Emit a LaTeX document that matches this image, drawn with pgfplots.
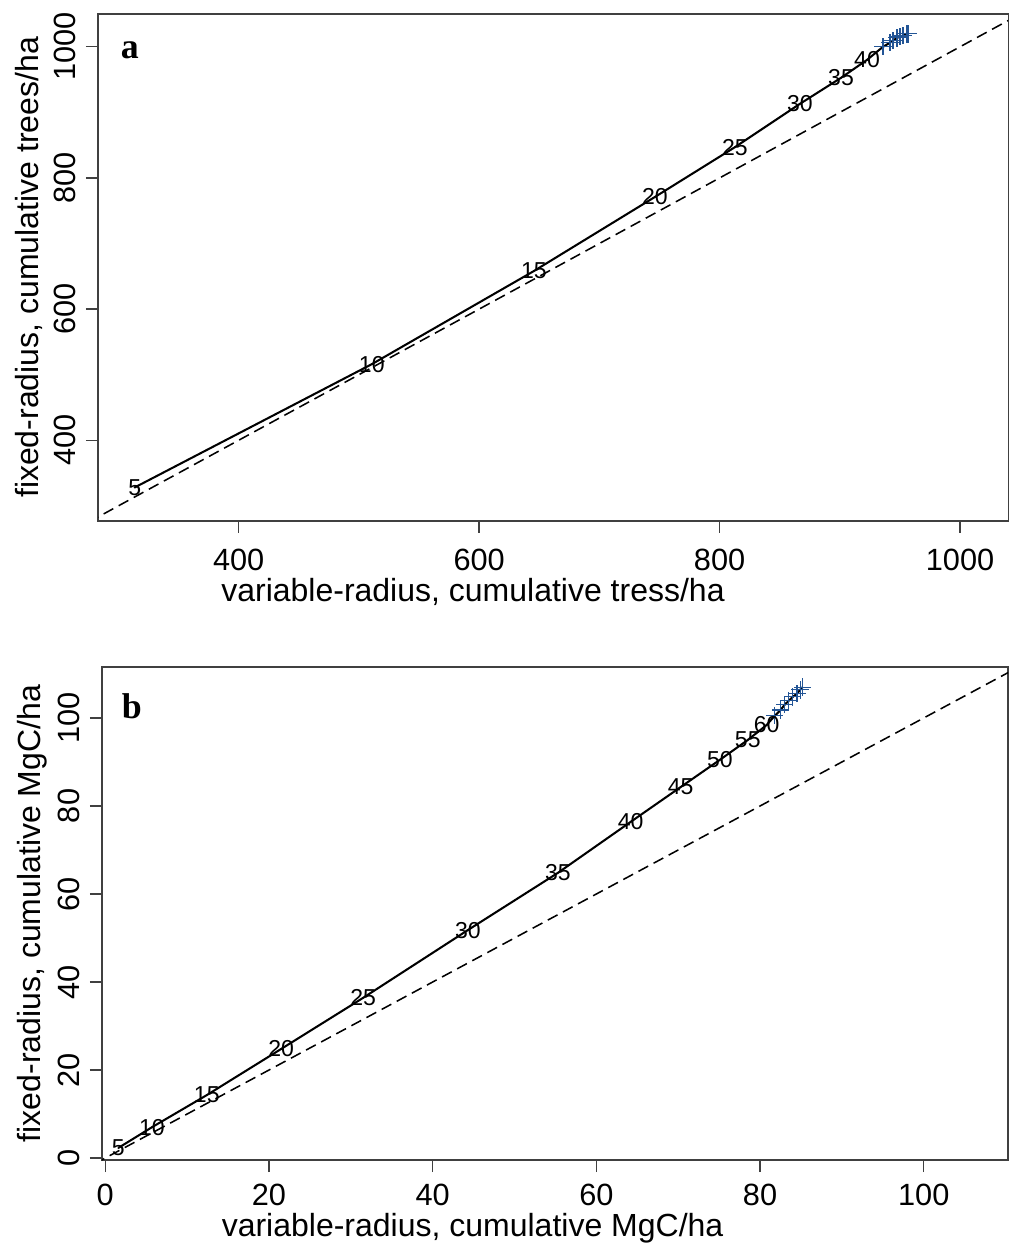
\documentclass[border=0pt]{standalone}
\usepackage{fontspec}
\setmainfont{Liberation Sans}
\newfontfamily\timesfont{Liberation Serif}
\usepackage{pgfplots}
\pgfplotsset{compat=1.18}
\definecolor{mkblue}{RGB}{35,85,150}
\pgfplotsset{
  myaxis/.style={
    scale only axis, anchor=north west,
    axis line style={line width=0.5pt, draw=black!75},
    tick align=outside, major tick length=4.7pt,
    xtick pos=bottom, ytick pos=left,
    tick style={black!75, line width=0.5pt},
    /pgf/number format/assume math mode=true,
    /pgf/number format/1000 sep={},
    scaled ticks=false,
    ticklabel style={font=\fontsize{12}{14}\selectfont, inner sep=0pt},
    xticklabel style={anchor=north},
    yticklabel style={rotate=90, anchor=south},
    xticklabel shift=5.9pt, yticklabel shift=3.9pt,
    every axis x label/.style={anchor=center, inner sep=0pt, font=\fontsize{12.5}{14}\selectfont},
    every axis y label/.style={anchor=center, rotate=90, inner sep=0pt, font=\fontsize{12.5}{14}\selectfont},
    clip=true,
  },
  lbls/.style={only marks, mark=*, mark size=0.1pt, mark options={draw=none, fill=none},
    nodes near coords, point meta=explicit symbolic,
    every node near coord/.style={anchor=center, inner sep=0pt, font=\fontsize{9}{10}\selectfont}},
}
\begin{document}
\begin{tikzpicture}
\useasboundingbox (0,0) rectangle (394.5pt,-486.3pt);
% ---------- panel a ----------
\begin{axis}[myaxis, at={(38.28pt,-5.47pt)}, width=355.5pt, height=198.0pt,
  xmin=283, xmax=1040, ymin=277, ymax=1050,
  xtick={400,600,800,1000}, ytick={400,600,800,1000},
  xlabel={variable-radius, cumulative tress/ha},
  ylabel={fixed-radius, cumulative trees/ha},
  xlabel style={at={(axis description cs:0.412,-0.140)}},
  ylabel style={at={(axis description cs:-0.0758,0.5)}}]
\addplot[black, line width=0.6pt, dash pattern=on 4.3pt off 2.4pt] coordinates {(200,200) (1100,1100)};
\addplot[black, line width=0.8pt] coordinates {
(313.5,328) (510.7,516) (645.5,658) (746.2,771) (812.8,847) (866.8,913) (901,952.7) (922.6,980)
(935.9,1000.0) (941.7,1006.1) (944.2,1009.2) (947.6,1013.7) (950.1,1015.3) (952.6,1016.8) (955.3,1019.8) (956.7,1019.8)};
\addplot[only marks, mark=+, mark size=3.4pt, mkblue, line width=0.5pt] coordinates {
(935.9,1000.0) (941.7,1006.1) (944.2,1009.2) (947.6,1013.7) (950.1,1015.3) (952.6,1016.8) (955.3,1019.8) (956.7,1019.8)};
\addplot[lbls] coordinates {
(313.5,328) [5] (510.7,516) [10] (645.5,658) [15] (746.2,771) [20] (812.8,847) [25] (866.8,913) [30] (901,952.7) [35] (922.6,980) [40]};
\node[font=\timesfont\bfseries\fontsize{14}{16}\selectfont] at (axis description cs:0.035,0.929) {a};
\end{axis}
% ---------- panel b ----------
\begin{axis}[myaxis, at={(39.84pt,-260.5pt)}, width=353.9pt, height=192.6pt,
  xmin=-0.4, xmax=110.3, ymin=-0.45, ymax=111.6,
  xtick={0,20,40,60,80,100}, ytick={0,20,40,60,80,100},
  xticklabel shift=4.5pt,
  xlabel={variable-radius, cumulative MgC/ha},
  ylabel={fixed-radius, cumulative MgC/ha},
  xlabel style={at={(axis description cs:0.409,-0.138)}},
  ylabel style={at={(axis description cs:-0.0773,0.5)}}]
\addplot[black, line width=0.6pt, dash pattern=on 4.3pt off 2.4pt] coordinates {(-5,-5) (120,120)};
\addplot[black, line width=0.8pt] coordinates {
(1.6,2.3) (5.7,7.0) (12.4,14.3) (21.5,24.8) (31.5,36.4) (44.3,51.8) (55.3,64.8) (64.2,76.4) (70.3,84.3) (75.1,90.5) (78.5,95.0) (80.8,98.4)
(81.8,100.5) (82.5,101.8) (83.0,103.0) (83.5,103.9) (84.0,104.8) (84.5,105.5) (84.9,106.4) (85.2,107.0)};
\addplot[only marks, mark=+, mark size=3.4pt, mkblue, line width=0.5pt] coordinates {
(81.8,100.5) (82.5,101.8) (83.0,103.0) (83.5,103.9) (84.0,104.8) (84.5,105.5) (84.9,106.4) (85.2,107.0)};
\addplot[lbls] coordinates {
(1.6,2.3) [5] (5.7,7.0) [10] (12.4,14.3) [15] (21.5,24.8) [20] (31.5,36.4) [25] (44.3,51.8) [30] (55.3,64.8) [35] (64.2,76.4) [40] (70.3,84.3) [45] (75.1,90.5) [50] (78.5,95.0) [55] (80.8,98.4) [60]};
\node[font=\timesfont\bfseries\fontsize{14}{16}\selectfont] at (axis description cs:0.033,0.921) {b};
\end{axis}
\end{tikzpicture}
\end{document}
